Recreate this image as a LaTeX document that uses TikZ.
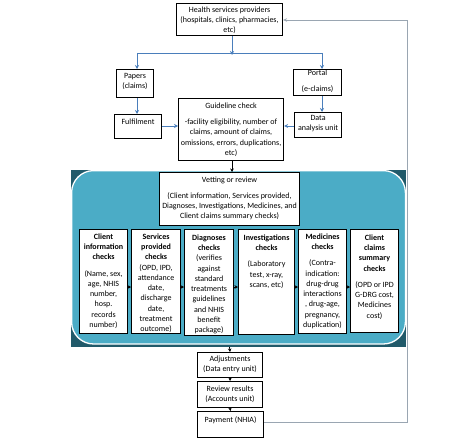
\documentclass[tikz,border=0pt]{standalone}
\usepackage{fontspec}
\setmainfont{Carlito}
\usetikzlibrary{arrows.meta,calc}
\definecolor{arrowblue}{HTML}{4A7EBB}
\definecolor{panellight}{HTML}{4BACC6}
\definecolor{paneldark}{HTML}{215A6A}
\definecolor{backline}{HTML}{9AA6B2}
\newcommand{\bxt}[4]{\parbox[c][#2pt][t]{#1pt}{\centering\vspace*{#3pt}#4\par}}
\begin{document}
\begin{tikzpicture}[x=1pt,y=-1pt,
  bx/.style={draw=black, line width=1.1pt, fill=white, inner sep=0pt, anchor=north west,
    font=\fontsize{8}{10.3}\selectfont},
  barr/.style={draw=arrowblue, line width=0.9pt, -{Stealth[length=4pt,width=4pt]}},
  bline/.style={draw=arrowblue, line width=0.9pt},
  karr/.style={draw=black, line width=0.8pt, -{Stealth[length=3.5pt,width=3.5pt]}},
  fbarr/.style={draw=backline, line width=0.9pt, -{Stealth[length=4pt,width=3.5pt]}}]
\useasboundingbox (0,0) rectangle (474,444);
% panel
\fill[paneldark] (71,170) rectangle (406,347);
\filldraw[fill=panellight, draw=white, line width=1.3pt, rounded corners=22pt] (71.6,170.6) rectangle (405.4,344);
% top boxes
\node[bx] (hsp) at (176,3) {\bxt{106}{32}{3}{Health services providers\\(hospitals, clinics, pharmacies,\\etc)}};
\node[bx] (pap) at (116,69) {\bxt{37}{28}{4}{Papers\\(claims)}};
\node[bx] (por) at (293,69) {\bxt{48}{26}{0.5}{Portal\\[6pt](e-claims)}};
\node[bx] (ful) at (114,114) {\bxt{47}{24}{4}{Fulfilment}};
\node[bx] (dat) at (294,112) {\bxt{47}{25}{3}{Data\\analysis unit}};
\node[bx] (gui) at (178,98) {\bxt{105}{62}{4}{Guideline check\\[6pt]-facility eligibility, number of\\claims, amount of claims,\\omissions, errors, duplications,\\etc)}};
% vetting
\node[bx] (vet) at (159,172) {\bxt{140}{53}{4}{Vetting or review\\[6pt](Client information, Services provided,\\Diagnoses, Investigations, Medicines, and\\Client claims summary checks)}};
\node[bx] (cli) at (79,229) {\bxt{48}{104}{4}{\textbf{Client}\\\textbf{information}\\\textbf{checks}\\[6pt](Name, sex,\\age, NHIS\\number,\\hosp.\\records\\number)}};
\node[bx] (ser) at (131,229) {\bxt{49}{104}{4}{\textbf{Services}\\\textbf{provided}\\\textbf{checks}\\(OPD, IPD,\\attendance\\date,\\discharge\\date,\\treatment\\outcome)}};
\node[bx] (dia) at (184,229) {\bxt{49}{106}{5}{\textbf{Diagnoses}\\\textbf{checks}\\(verifies\\against\\standard\\treatments\\guidelines\\and NHIS\\benefit\\package)}};
\node[bx] (inv) at (238,229) {\bxt{56}{105}{5}{\textbf{Investigations}\\\textbf{checks}\\[6pt](Laboratory\\test, x-ray,\\scans, etc)}};
\node[bx] (med) at (298,229) {\bxt{48}{104}{4}{\textbf{Medicines}\\\textbf{checks}\\[6pt](Contra-\\indication:\\drug-drug\\interactions\\, drug-age,\\pregnancy,\\duplication)}};
\node[bx] (ccl) at (350,229) {\bxt{48}{103}{5}{\textbf{Client}\\\textbf{claims}\\\textbf{summary}\\\textbf{checks}\\[6pt](OPD or IPD\\G-DRG cost,\\Medicines\\cost)}};
% bottom boxes
\node[bx] (adj) at (197,352) {\bxt{65}{25}{3}{Adjustments\\(Data entry unit)}};
\node[bx] (rev) at (197,381) {\bxt{65}{26}{4}{Review results\\(Accounts unit)}};
\node[bx] (pay) at (197,411) {\bxt{66}{26}{5}{Payment (NHIA)}};
% coordinates
\coordinate (split) at (232,53);
\coordinate (splitL) at (137,53);
\coordinate (splitR) at (322,53);
\coordinate (pbot) at (229.5,347);
\coordinate (fbR) at (407,422);
\coordinate (fbT) at (407,20);
% top connectors
\draw[barr] (hsp.south -| split) -- ([yshift=-2pt]split);
\draw[bline] (splitL) -- (splitR);
\draw[barr] (splitL) -- (splitL |- pap.north);
\draw[barr] (splitR) -- (splitR |- por.north);
\draw[barr] (pap.south -| splitL) -- (splitL |- ful.north);
\draw[barr] (por.south -| splitR) -- (splitR |- dat.north);
\draw[barr] (ful.east |- 0,126) -- (gui.west |- 0,126);
\draw[barr] (dat.west |- 0,126) -- (gui.east |- 0,126);
% vetting connectors
\draw[karr] (gui.south -| 232,0) -- (vet.north -| 232,0);
\draw[karr] (cli.east |- 0,287) -- (ser.west |- 0,287);
\draw[karr] (ser.east |- 0,287) -- (dia.west |- 0,287);
\draw[karr] (dia.east |- 0,287) -- (inv.west |- 0,287);
\draw[karr] (inv.east |- 0,287) -- (med.west |- 0,287);
\draw[karr] (med.east |- 0,287) -- (ccl.west |- 0,287);
% bottom connectors
\draw[karr] (pbot) -- (adj.north);
\draw[karr] (adj.south) -- (rev.north);
\draw[karr] (rev.south) -- (pay.north);
% feedback
\draw[fbarr] (pay.east |- fbR) -- (fbR) -- (fbT) -- (hsp.east |- fbT);
\end{tikzpicture}
\end{document}
